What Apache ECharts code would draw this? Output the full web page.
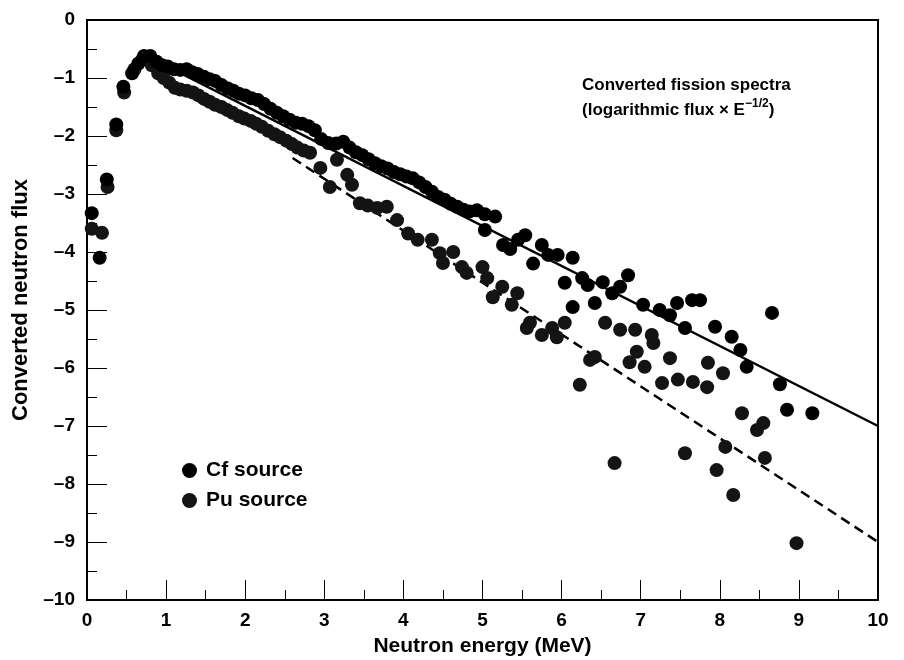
<!DOCTYPE html>
<html><head><meta charset="utf-8">
<script src="https://cdn.jsdelivr.net/npm/echarts@6/dist/echarts.min.js"></script>
<style>html,body{margin:0;padding:0;background:#fff}#c{width:904px;height:660px}</style>
</head><body><div id="c"></div>
<script>
// Cf source points (energy MeV, converted flux)
const cfX = [0.06,0.16,0.25,0.37,0.46,0.57,0.65,0.72,0.80,0.88,0.95,1.02,1.10,1.18,1.26,1.33,1.40,1.48,1.55,1.62,1.70,1.78,1.85,1.92,2.00,2.08,2.16,2.24,2.32,2.40,2.48,2.56,2.64,2.72,2.80,2.88,2.96,3.05,3.15,3.24,3.32,3.40,3.48,3.56,3.64,3.72,3.80,3.88,3.96,4.04,4.12,4.20,4.28,4.36,4.44,4.52,4.60,4.68,4.76,4.84,4.93,5.03,5.16,5.03,5.26,5.35,5.45,5.54,5.64,5.75,5.83,5.95,6.04,6.14,6.14,6.26,6.33,6.42,6.52,6.64,6.74,6.84,7.03,7.24,7.37,7.46,7.56,7.65,7.75,7.94,8.15,8.26,8.34,8.66,8.76,8.85,9.17];
const cfY = [-3.33,-4.10,-2.75,-1.80,-1.15,-0.92,-0.75,-0.62,-0.62,-0.72,-0.78,-0.80,-0.85,-0.86,-0.85,-0.90,-0.93,-0.98,-1.02,-1.05,-1.12,-1.18,-1.22,-1.27,-1.30,-1.35,-1.38,-1.45,-1.53,-1.60,-1.66,-1.72,-1.77,-1.79,-1.83,-1.90,-2.05,-2.12,-2.13,-2.10,-2.20,-2.28,-2.33,-2.40,-2.47,-2.52,-2.56,-2.62,-2.66,-2.70,-2.73,-2.80,-2.88,-2.96,-3.05,-3.10,-3.17,-3.22,-3.27,-3.30,-3.28,-3.35,-3.39,-3.62,-3.88,-3.95,-3.79,-3.71,-4.20,-3.88,-4.05,-4.05,-4.53,-4.10,-4.95,-4.45,-4.57,-4.88,-4.52,-4.71,-4.60,-4.40,-4.91,-5.00,-5.09,-4.88,-5.31,-4.83,-4.83,-5.29,-5.46,-5.69,-5.98,-5.05,-6.28,-6.72,-6.78];
// Pu source points
const puX = [0.06,0.19,0.26,0.37,0.47,0.60,0.70,0.82,0.90,0.97,1.04,1.11,1.18,1.26,1.34,1.41,1.48,1.55,1.62,1.70,1.77,1.84,1.92,1.99,2.07,2.14,2.21,2.29,2.37,2.44,2.52,2.59,2.66,2.74,2.82,2.95,3.07,3.16,3.29,3.35,3.45,3.55,3.67,3.79,3.92,4.06,4.18,4.36,4.46,4.50,4.63,4.74,4.80,5.00,5.06,5.13,5.25,5.37,5.44,5.56,5.60,5.75,5.88,5.94,6.04,6.23,6.36,6.42,6.55,6.67,6.74,6.86,6.93,6.95,7.05,7.14,7.16,7.27,7.37,7.47,7.56,7.66,7.84,7.85,7.96,8.04,8.07,8.17,8.28,8.47,8.55,8.57,8.97];
const puY = [-3.60,-3.67,-2.88,-1.90,-1.25,-0.85,-0.68,-0.78,-0.92,-1.00,-1.08,-1.17,-1.20,-1.22,-1.25,-1.30,-1.36,-1.41,-1.46,-1.50,-1.55,-1.60,-1.66,-1.70,-1.74,-1.79,-1.84,-1.91,-1.97,-2.02,-2.08,-2.14,-2.20,-2.25,-2.29,-2.55,-2.88,-2.41,-2.67,-2.84,-3.16,-3.20,-3.24,-3.22,-3.45,-3.68,-3.79,-3.79,-4.02,-4.19,-4.00,-4.26,-4.36,-4.26,-4.45,-4.78,-4.60,-4.91,-4.71,-5.31,-5.22,-5.43,-5.31,-5.47,-5.22,-6.29,-5.86,-5.81,-5.22,-7.64,-5.34,-5.90,-5.34,-5.72,-5.98,-5.43,-5.57,-6.26,-5.83,-6.20,-7.47,-6.24,-6.33,-5.91,-7.76,-6.09,-7.36,-8.19,-6.78,-7.07,-6.95,-7.55,-9.02];
// fitted lines (endpoints)
const cfFitX = [0.75, 10];
const cfFitY = [-0.62, -7.0];
const puFitX = [2.6, 10];
const puFitY = [-2.38, -9.0];
const xTicks = [0,1,2,3,4,5,6,7,8,9,10];
const yTicks = [0,-1,-2,-3,-4,-5,-6,-7,-8,-9,-10];

const zip = (a,b)=>a.map((v,i)=>[v,b[i]]);
const F = "'Liberation Sans', Arial, Helvetica, sans-serif";
const fmt = v => (v<0 ? '\u2013' + Math.abs(v) : String(v));
const ts = s => ({fontFamily:F,fontWeight:'bold',fontSize:s,color:'#000'});

const chart = echarts.init(document.getElementById('c'));
chart.setOption({
  animation:false,
  backgroundColor:'#fff',
  grid:{left:87,right:26,top:20,bottom:60,containLabel:false,outerBoundsMode:'none',
        show:true,borderColor:'#000',borderWidth:2,backgroundColor:'transparent'},
  legend:{
    orient:'vertical', left:177, top:455, itemGap:9,
    itemWidth:15, itemHeight:15, icon:'circle',
    data:['Cf source','Pu source'],
    textStyle:Object.assign({padding:[0,0,0,4]},ts(21))
  },
  xAxis:{
    type:'value', min:0, max:10, interval:1,
    name:'Neutron energy (MeV)', nameLocation:'middle', nameGap:36,
    nameTextStyle:ts(21),
    axisLine:{onZero:false,lineStyle:{color:'#000',width:2}},
    axisTick:{inside:true,length:20,lineStyle:{color:'#000',width:1}},
    minorTick:{show:true,splitNumber:2,length:10,lineStyle:{color:'#000',width:1}},
    splitLine:{show:false},
    axisLabel:Object.assign({margin:11,formatter:v=>xTicks.includes(v)?fmt(v):''},ts(19))
  },
  yAxis:{
    type:'value', min:-10, max:0, interval:1,
    name:'Converted neutron flux', nameLocation:'middle', nameGap:54, nameRotate:90,
    nameTextStyle:Object.assign({padding:[0,0,0,20]},ts(22)),
    axisLine:{onZero:false,lineStyle:{color:'#000',width:2}},
    axisTick:{inside:true,length:20,lineStyle:{color:'#000',width:1}},
    minorTick:{show:true,splitNumber:2,length:10,lineStyle:{color:'#000',width:1}},
    splitLine:{show:false},
    axisLabel:Object.assign({margin:12,formatter:v=>yTicks.includes(v)?fmt(v):''},ts(19))
  },
  graphic:[{
    type:'text', left:582, top:77,
    style:{
      rich:{
        b:{fontFamily:F,fontWeight:'bold',fontSize:17,fill:'#000',lineHeight:25},
        s:{fontFamily:F,fontWeight:'bold',fontSize:12,fill:'#000',verticalAlign:'top',padding:[0,0,8,0]}
      },
      text:'{b|Converted fission spectra}\n{b|(logarithmic flux \u00d7 E}{s|\u22121/2}{b|)}'
    }
  }],
  series:[
    {name:'Cf fit', type:'line', data:zip(cfFitX,cfFitY), symbol:'none', z:1,
     lineStyle:{color:'#000',width:2.5}, silent:true},
    {name:'Pu fit', type:'line', data:zip(puFitX,puFitY), symbol:'none', z:1,
     lineStyle:{color:'#000',width:2.5,type:[10,6]}, silent:true},
    {name:'Cf source', type:'scatter', data:zip(cfX,cfY), symbol:'circle', symbolSize:14, z:3,
     itemStyle:{color:'#000',opacity:1}},
    {name:'Pu source', type:'scatter', data:zip(puX,puY), symbol:'circle', symbolSize:14, z:2,
     itemStyle:{color:'#141414',opacity:1}}
  ]
});
</script></body></html>
